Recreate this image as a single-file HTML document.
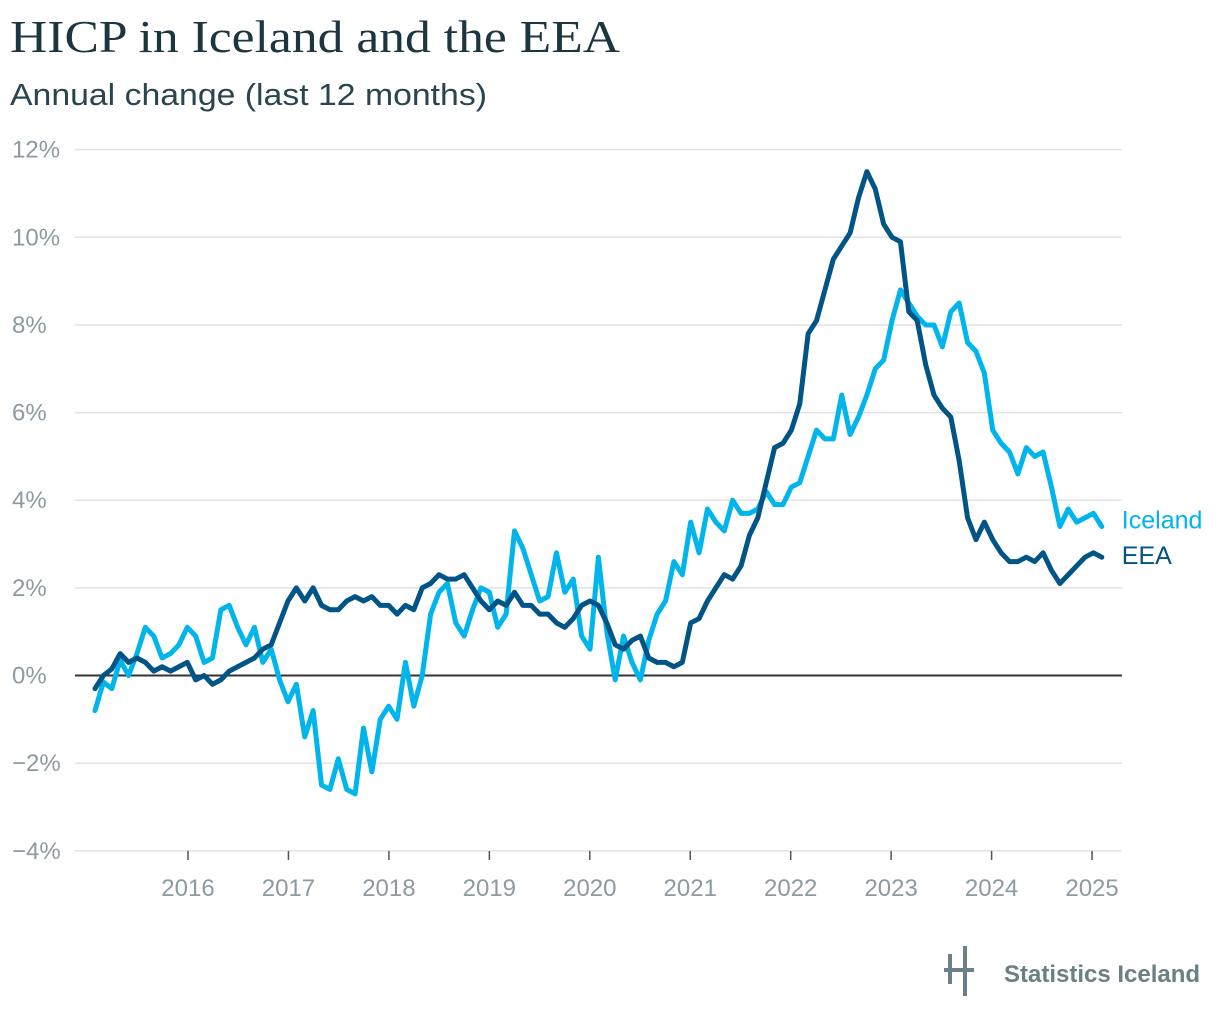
<!DOCTYPE html>
<html><head><meta charset="utf-8"><style>
body{margin:0;background:#fff;width:1220px;height:1022px;overflow:hidden;font-family:"Liberation Sans",sans-serif}
</style></head><body>
<svg width="1220" height="1022" xmlns="http://www.w3.org/2000/svg">
<text x="10" y="52" font-family="Liberation Serif, serif" font-size="46" fill="#1c3640" textLength="610" lengthAdjust="spacingAndGlyphs">HICP in Iceland and the EEA</text>
<text x="10" y="105" font-size="31" fill="#2a4450" textLength="477" lengthAdjust="spacingAndGlyphs">Annual change (last 12 months)</text>
<g id="grid"></g><g id="xaxis"></g><g id="lines"></g>
<g>
<rect x="948" y="954" width="4" height="30" fill="#6b7f86"/><rect x="963" y="946" width="4" height="50" fill="#6b7f86"/>
<rect x="944" y="968" width="30" height="4" fill="#6b7f86"/>
<text x="1004" y="982" font-size="24" font-weight="bold" fill="#6b7f86">Statistics Iceland</text>
</g>
</svg>
<script>
const yTicks=[-4,-2,0,2,4,6,8,10,12];
const xTickYears=[2016,2017,2018,2019,2020,2021,2022,2023,2024,2025];
const iceland=[-0.8,-0.15,-0.3,0.35,0.0,0.5,1.1,0.9,0.4,0.5,0.7,1.1,0.9,0.3,0.4,1.5,1.6,1.1,0.7,1.1,0.3,0.6,-0.1,-0.6,-0.2,-1.4,-0.8,-2.5,-2.6,-1.9,-2.6,-2.7,-1.2,-2.2,-1.0,-0.7,-1.0,0.3,-0.7,0.0,1.4,1.9,2.1,1.2,0.9,1.5,2.0,1.9,1.1,1.4,3.3,2.9,2.3,1.7,1.8,2.8,1.9,2.2,0.9,0.6,2.7,1.0,-0.1,0.9,0.3,-0.1,0.8,1.4,1.7,2.6,2.3,3.5,2.8,3.8,3.5,3.3,4.0,3.7,3.7,3.8,4.2,3.9,3.9,4.3,4.4,5.0,5.6,5.4,5.4,6.4,5.5,5.9,6.4,7.0,7.2,8.1,8.8,8.5,8.2,8.0,8.0,7.5,8.3,8.5,7.6,7.4,6.9,5.6,5.3,5.1,4.6,5.2,5.0,5.1,4.3,3.4,3.8,3.5,3.6,3.7,3.4];
const eea=[-0.3,0,0.15,0.5,0.3,0.4,0.3,0.1,0.2,0.1,0.2,0.3,-0.1,0,-0.2,-0.1,0.1,0.2,0.3,0.4,0.6,0.7,1.2,1.7,2.0,1.7,2.0,1.6,1.5,1.5,1.7,1.8,1.7,1.8,1.6,1.6,1.4,1.6,1.5,2.0,2.1,2.3,2.2,2.2,2.3,2.0,1.7,1.5,1.7,1.6,1.9,1.6,1.6,1.4,1.4,1.2,1.1,1.3,1.6,1.7,1.6,1.2,0.7,0.6,0.8,0.9,0.4,0.3,0.3,0.2,0.3,1.2,1.3,1.7,2.0,2.3,2.2,2.5,3.2,3.6,4.4,5.2,5.3,5.6,6.2,7.8,8.1,8.8,9.5,9.8,10.1,10.9,11.5,11.1,10.3,10.0,9.9,8.3,8.1,7.1,6.4,6.1,5.9,4.9,3.6,3.1,3.5,3.1,2.8,2.6,2.6,2.7,2.6,2.8,2.4,2.1,2.3,2.5,2.7,2.8,2.7];
const NS="http://www.w3.org/2000/svg";
const ys=v=>675.5-v*43.82;
const xs=i=>95+i*8.39; // month index from Jan 2015
const xYear=y=>188+(y-2016)*100.45;
function mk(t,a,p){const e=document.createElementNS(NS,t);for(const k in a)e.setAttribute(k,a[k]);p.appendChild(e);return e;}
const grid=document.getElementById('grid');
yTicks.forEach(v=>{
  const l=mk('line',{x1:75,x2:1122,y1:ys(v),y2:ys(v),stroke:v===0?'#333':'#e3e3e3','stroke-width':v===0?2:1.5},grid);
  
  
  const t=mk('text',{x:12,y:ys(v)+8,'font-size':24,fill:'#8c9ba2'},grid);
  t.textContent=(v<0?'\u2212'+(-v):v)+'%';
  
  
});
const xa=document.getElementById('xaxis');
xTickYears.forEach(y=>{
  const x=xYear(y);
  const l=mk('line',{x1:x,x2:x,y1:851,y2:860,stroke:'#555','stroke-width':1.5},xa);
  
  
  const t=mk('text',{x:x,y:896,'font-size':24,fill:'#8c9ba2','text-anchor':'middle'},xa);
  t.textContent=y;
  
  
});
const lg=document.getElementById('lines');
function series(d,c,name,label,dy){
  const p=mk('polyline',{points:d.map((v,i)=>xs(i)+','+ys(v)).join(' '),fill:'none',stroke:c,'stroke-width':5,'stroke-linejoin':'round','stroke-linecap':'round'},lg);
  
  
  const n=d.length-1;
  const t=mk('text',{x:xs(n)+20,y:ys(d[n])+dy,'font-size':25,fill:c},lg);
  t.textContent=label;
  
  
}
series(iceland,'#00b4ec','iceland-line','Iceland',2);
series(eea,'#005486','eea-line','EEA',7);
</script>
</body></html>
